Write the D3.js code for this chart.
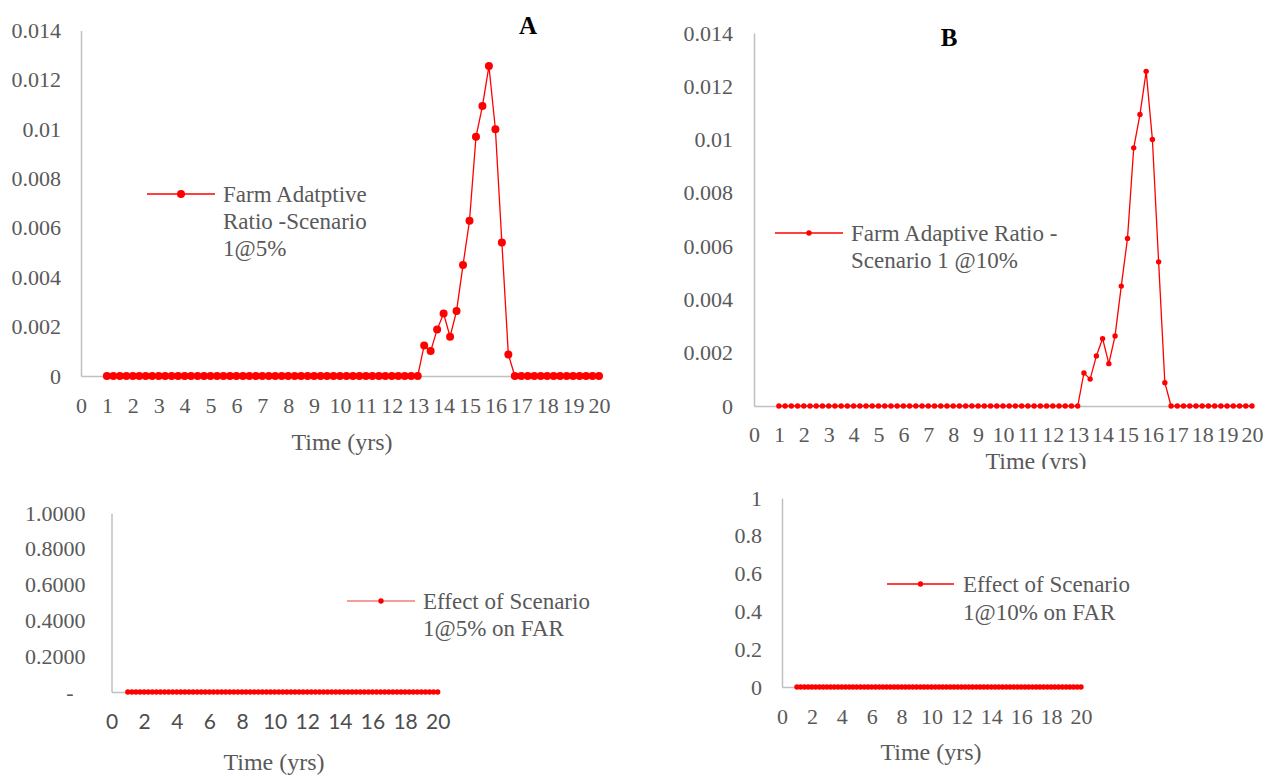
<!DOCTYPE html>
<html>
<head>
<meta charset="utf-8">
<script src="https://cdn.jsdelivr.net/npm/d3@7/dist/d3.min.js"></script>
<style>
  html, body { margin: 0; padding: 0; background: #fff; }
  svg { display: block; }
</style>
</head>
<body>
<svg id="chart" width="1278" height="777"></svg>
<script>
// ---------- DATA ----------
const time = [1,1.25,1.5,1.75,2,2.25,2.5,2.75,3,3.25,3.5,3.75,4,4.25,4.5,4.75,5,5.25,5.5,5.75,
  6,6.25,6.5,6.75,7,7.25,7.5,7.75,8,8.25,8.5,8.75,9,9.25,9.5,9.75,10,10.25,10.5,10.75,
  11,11.25,11.5,11.75,12,12.25,12.5,12.75,13,13.25,13.5,13.75,14,14.25,14.5,14.75,15,15.25,15.5,15.75,
  16,16.25,16.5,16.75,17,17.25,17.5,17.75,18,18.25,18.5,18.75,19,19.25,19.5,19.75,20];

const farRatio5 = [0,0,0,0,0,0,0,0,0,0,0,0,0,0,0,0,0,0,0,0,
  0,0,0,0,0,0,0,0,0,0,0,0,0,0,0,0,0,0,0,0,
  0,0,0,0,0,0,0,0,0,0.00124,0.00101,0.00188,0.00253,0.00159,0.00263,0.0045,0.00629,0.00969,0.01094,0.01256,
  0.0100,0.00541,0.000875,0,0,0,0,0,0,0,0,0,0,0,0,0,0];

const farRatio10 = [0,0,0,0,0,0,0,0,0,0,0,0,0,0,0,0,0,0,0,0,
  0,0,0,0,0,0,0,0,0,0,0,0,0,0,0,0,0,0,0,0,
  0,0,0,0,0,0,0,0,0,0.00124,0.00101,0.00188,0.00253,0.00159,0.00263,0.0045,0.00629,0.00969,0.01094,0.01256,
  0.0100,0.00541,0.000875,0,0,0,0,0,0,0,0,0,0,0,0,0,0];

const effect5 = [0,0,0,0,0,0,0,0,0,0,0,0,0,0,0,0,0,0,0,0,
  0,0,0,0,0,0,0,0,0,0,0,0,0,0,0,0,0,0,0,0,
  0,0,0,0,0,0,0,0,0,0,0,0,0,0,0,0,0,0,0,0,
  0,0,0,0,0,0,0,0,0,0,0,0,0,0,0,0,0];

const effect10 = [0,0,0,0,0,0,0,0,0,0,0,0,0,0,0,0,0,0,0,0,
  0,0,0,0,0,0,0,0,0,0,0,0,0,0,0,0,0,0,0,0,
  0,0,0,0,0,0,0,0,0,0,0,0,0,0,0,0,0,0,0,0,
  0,0,0,0,0,0,0,0,0,0,0,0,0,0,0,0,0];

const xTicksTop = [0,1,2,3,4,5,6,7,8,9,10,11,12,13,14,15,16,17,18,19,20];
const xTicksBottom = [0,2,4,6,8,10,12,14,16,18,20];
const yTicksTop = [0,0.002,0.004,0.006,0.008,0.01,0.012,0.014];
const yTickLabelsTop = ["0","0.002","0.004","0.006","0.008","0.01","0.012","0.014"];
const yTicksBottom = [0,0.2,0.4,0.6,0.8,1];
const yTickLabelsC = ["-","0.2000","0.4000","0.6000","0.8000","1.0000"];
const yTickLabelsD = ["0","0.2","0.4","0.6","0.8","1"];

const legendA = ["Farm Adatptive", "Ratio -Scenario", "1@5%"];
const legendB = ["Farm Adaptive Ratio -", "Scenario 1 @10%"];
const legendC = ["Effect of Scenario", "1@5% on FAR"];
const legendD = ["Effect of Scenario", "1@10% on FAR"];
const xTitle = "Time (yrs)";

// ---------- DRAW ----------
const SERIF = "'Liberation Serif', 'Times New Roman', Times, serif";
const SANS = "Lato, 'Open Sans', sans-serif";
const svg = d3.select("#chart");
const RED = "#ff0000";
const GRID = "#c0c0c0";
const TXT = "#595959";

svg.append("defs").append("clipPath").attr("id", "clipB")
  .append("rect").attr("x", 640).attr("y", 0).attr("width", 638).attr("height", 469);

function panel(cfg) {
  const g = svg.append("g");
  if (cfg.clip) g.attr("clip-path", cfg.clip);
  const x = d3.scaleLinear().domain([0, 20]).range(cfg.xr);
  const y = d3.scaleLinear().domain(cfg.yd).range(cfg.yr);

  // y axis
  const ya = d3.axisLeft(y).tickValues(cfg.yTicks)
    .tickFormat((d, i) => cfg.yLabels[i]).tickSize(0).tickPadding(cfg.yPad);
  const yg = g.append("g").attr("transform", `translate(${cfg.xr[0]},0)`).call(ya);
  yg.attr("font-family", null).attr("font-size", null);
  yg.select(".domain").attr("stroke", GRID).attr("stroke-width", 1.5);
  yg.selectAll("text").style("font-family", SERIF).style("font-size", "22px")
    .style("fill", TXT);
  if (cfg.dashFix) yg.selectAll("text").filter((d, i) => i === 0).attr("dx", -12);

  // x axis
  const xa = d3.axisBottom(x).tickValues(cfg.xTicks).tickFormat(d3.format("d"))
    .tickSize(0).tickPadding(cfg.xPad);
  const xg = g.append("g").attr("transform", `translate(0,${cfg.yr[0]})`).call(xa);
  xg.attr("font-family", null).attr("font-size", null);
  xg.select(".domain").attr("stroke", GRID).attr("stroke-width", 1.5);
  xg.selectAll("text").style("font-family", cfg.xFont).style("font-size", cfg.xFontSize + "px")
    .style("fill", cfg.xFill);

  // line and markers
  const pts = time.map((t, i) => [t, cfg.values[i]]);
  g.append("path").datum(pts)
    .attr("fill", "none").attr("stroke", RED).attr("stroke-width", 1.3)
    .attr("d", d3.line().x(d => x(d[0])).y(d => y(d[1])));
  g.selectAll("circle.pt").data(pts).enter().append("circle").attr("class", "pt")
    .attr("cx", d => x(d[0])).attr("cy", d => y(d[1])).attr("r", cfg.r).attr("fill", RED);

  // axis title
  g.append("text").attr("x", cfg.title[0]).attr("y", cfg.title[1])
    .attr("text-anchor", "middle")
    .style("font-family", SERIF).style("font-size", "24px").style("fill", TXT)
    .text(xTitle);

  // legend
  const L = cfg.legend;
  g.append("line").attr("x1", L.x1).attr("x2", L.x2).attr("y1", L.y).attr("y2", L.y)
    .attr("stroke", L.lineColor || RED).attr("stroke-width", 1.3);
  g.append("circle").attr("cx", (L.x1 + L.x2) / 2).attr("cy", L.y).attr("r", cfg.r).attr("fill", RED);
  L.lines.forEach((s, i) => {
    g.append("text").attr("x", L.tx).attr("y", L.y + i * L.dy)
      .attr("dy", "0.35em")
      .style("font-family", SERIF).style("font-size", "23px").style("fill", TXT)
      .text(s);
  });

  if (cfg.letter) {
    g.append("text").attr("x", cfg.letter[0]).attr("y", cfg.letter[1]).attr("dy", "0.35em")
      .attr("text-anchor", "middle")
      .style("font-family", SERIF).style("font-size", "25px").style("font-weight", "bold")
      .style("fill", "#000").text(cfg.letter[2]);
  }
}

// Panel A
panel({
  xr: [81, 599], yd: [0, 0.014], yr: [376, 30.5],
  yTicks: yTicksTop, yLabels: yTickLabelsTop, yPad: 20,
  xTicks: xTicksTop, xPad: 21, xFont: SERIF, xFontSize: 22, xFill: TXT,
  values: farRatio5, r: 4,
  title: [342, 450],
  legend: { x1: 147, x2: 215, y: 194, tx: 223, dy: 27, lines: legendA },
  letter: [528, 25, "A"]
});

// Panel B
panel({
  xr: [754, 1252], yd: [0, 0.014], yr: [406, 33],
  yTicks: yTicksTop, yLabels: yTickLabelsTop, yPad: 21,
  xTicks: xTicksTop, xPad: 20, xFont: SERIF, xFontSize: 22, xFill: TXT,
  values: farRatio10, r: 2.7,
  title: [1036, 469], clip: "url(#clipB)",
  legend: { x1: 775, x2: 843, y: 233, tx: 851, dy: 27, lines: legendB },
  letter: [949, 37, "B"]
});

// Panel C
panel({
  xr: [111.5, 437.7], yd: [0, 1], yr: [692, 513],
  yTicks: yTicksBottom, yLabels: yTickLabelsC, yPad: 26, dashFix: true,
  xTicks: xTicksBottom, xPad: 22, xFont: SANS, xFontSize: 21, xFill: "#4d4d4d",
  values: effect5, r: 2.7,
  title: [274, 770],
  legend: { x1: 347, x2: 415, y: 601, tx: 423, dy: 27, lines: legendC, lineColor: "#f47a7a" }
});

// Panel D
panel({
  xr: [782, 1081], yd: [0, 1], yr: [687, 498],
  yTicks: yTicksBottom, yLabels: yTickLabelsD, yPad: 20,
  xTicks: xTicksBottom, xPad: 21, xFont: SERIF, xFontSize: 22, xFill: TXT,
  values: effect10, r: 2.7,
  title: [931, 760],
  legend: { x1: 887, x2: 954, y: 584, tx: 963, dy: 28, lines: legendD }
});
</script>
</body>
</html>
